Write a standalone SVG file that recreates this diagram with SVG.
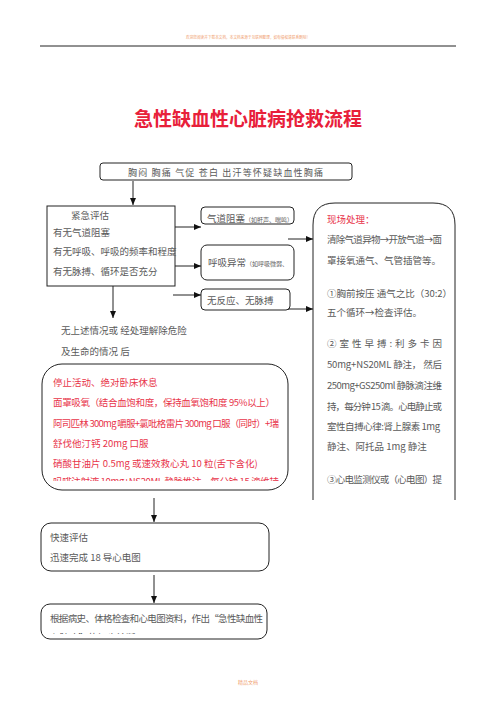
<svg xmlns="http://www.w3.org/2000/svg" width="496" height="702" viewBox="0 0 496 702">
<style>
text{font-family:"Noto Sans CJK SC","Liberation Sans",sans-serif;}
.t{font-size:9.5px;fill:#5a5a5a;}
.r{font-size:9.5px;fill:#e8344a;}
.box{fill:#fff;stroke:#222;stroke-width:1;}
.ln{stroke:#222;stroke-width:1;fill:none;}
</style>
<defs>
<marker id="ah" markerWidth="8" markerHeight="8" refX="7" refY="4" orient="auto" markerUnits="userSpaceOnUse">
<path d="M0,1 L7,4 L0,7 Z" fill="#111"/>
</marker>
<clipPath id="cRed"><rect x="42" y="364" width="246" height="117"/></clipPath>
<clipPath id="cBot"><rect x="41" y="604" width="226" height="30"/></clipPath>
<clipPath id="cA"><rect x="201" y="210" width="93" height="14"/></clipPath>
<clipPath id="cRight"><rect x="313" y="203" width="142" height="287"/></clipPath>
</defs>

<g id="header">
<text x="248" y="39" text-anchor="middle" style="font-size:4px;fill:#f0a070" textLength="124" lengthAdjust="spacingAndGlyphs">欢迎您阅读并下载本文档，本文档来源于互联网整理，如有侵权请联系删除！</text>
<line x1="40" y1="46" x2="456" y2="46" stroke="#222" stroke-width="1"/>
</g>

<g id="title">
<text x="248" y="126" text-anchor="middle" style="font-size:19px;font-weight:bold;fill:#e8203a">急性缺血性心脏病抢救流程</text>
</g>

<g id="n_symptoms">
<rect class="box" x="100" y="163" width="252" height="17" rx="3"/>
<text class="t" x="128" y="176" style="font-size:9px" textLength="195">胸闷  胸痛  气促  苍白  出汗等怀疑缺血性胸痛</text>
</g>

<g id="n_assess">
<rect class="box" x="47" y="206" width="128" height="80"/>
<text class="t" x="71" y="219">紧急评估</text>
<text class="t" x="53" y="236">有无气道阻塞</text>
<text class="t" x="53" y="255">有无呼吸、呼吸的频率和程度</text>
<text class="t" x="53" y="275">有无脉搏、循环是否充分</text>
</g>

<g id="n_airway">
<rect class="box" x="201" y="207" width="93" height="17" rx="4"/>
<g clip-path="url(#cA)">
<text class="t" x="207" y="222">气道阻塞<tspan style="font-size:6px">（如鼾声、喘鸣）</tspan></text>
</g>
</g>

<g id="n_breath">
<rect class="box" x="201" y="245" width="93" height="35" rx="6"/>
<text class="t" x="208" y="266">呼吸异常<tspan style="font-size:6px">（如呼吸微弱、</tspan></text>
</g>

<g id="n_pulse">
<rect class="box" x="201" y="289" width="89" height="21" rx="4"/>
<text class="t" x="207" y="304">无反应、无脉搏</text>
</g>

<g id="n_onsite">
<path class="box" d="M313,500 L313,225 Q313,203 335,203 L433,203 Q455,203 455,225 L455,500"/>
<g clip-path="url(#cRight)">
<text class="r" x="327" y="223">现场处理：</text>
<text class="t" x="327" y="243" textLength="115">清除气道异物→开放气道→面</text>
<text class="t" x="327" y="264">罩接氧通气、气管插管等。</text>
<text class="t" x="327" y="297">①胸前按压 通气之比（30:2）</text>
<text class="t" x="327" y="316">五个循环→检查评估。</text>
<text class="t" x="327" y="347" textLength="115">② 室 性 早 搏 : 利 多 卡 因</text>
<text class="t" x="327" y="368" textLength="115">50mg+NS20ML  静注， 然后</text>
<text class="t" x="327" y="389" textLength="115">250mg+GS250ml  静脉滴注维</text>
<text class="t" x="327" y="410" textLength="115">持，每分钟 15 滴。心电静止或</text>
<text class="t" x="327" y="430" textLength="113">室性自搏心律:肾上腺素  1mg</text>
<text class="t" x="327" y="450">静注、阿托品 1mg 静注</text>
<text class="t" x="327" y="483" textLength="115">③心电监测仪或（心电图）提</text>
</g>
</g>

<g id="n_note">
<text class="t" x="61" y="334">无上述情况或 经处理解除危险</text>
<text class="t" x="61" y="355">及生命的情况 后</text>
</g>

<g id="n_treat">
<rect class="box" x="42" y="364" width="246" height="126" rx="20"/>
<g clip-path="url(#cRed)">
<text class="r" x="53" y="386">停止活动、绝对卧床休息</text>
<text class="r" x="53" y="406" textLength="222">面罩吸氧（结合血饱和度，保持血氧饱和度 95%以上）</text>
<text class="r" x="53" y="427" textLength="226">阿司匹林 300mg 嚼服+氯吡格雷片 300mg 口服（同时）+瑞</text>
<text class="r" x="53" y="447">舒伐他汀钙 20mg 口服</text>
<text class="r" x="53" y="467">硝酸甘油片 0.5mg 或速效救心丸 10 粒(舌下含化)</text>
<text class="r" x="53" y="485" textLength="226">吗啡注射液 10mg+NS20ML 静脉推注，每分钟 15 滴维持</text>
</g>
</g>

<g id="n_quick">
<rect class="box" x="41" y="523" width="228" height="48" rx="10"/>
<text class="t" x="50" y="541">快速评估</text>
<text class="t" x="50" y="561">迅速完成 18 导心电图</text>
</g>

<g id="n_diag">
<rect class="box" x="41" y="604" width="226" height="35" rx="9"/>
<g clip-path="url(#cBot)">
<text class="t" x="50" y="622" textLength="213">根据病史、体格检查和心电图资料，作出“急性缺血性</text>
<text class="t" x="50" y="641">心脏病”的初步诊断</text>
</g>
</g>

<g id="connectors">
<line class="ln" x1="133" y1="181" x2="133" y2="205" marker-end="url(#ah)"/>
<line class="ln" x1="175" y1="227" x2="201" y2="227" marker-end="url(#ah)"/>
<line class="ln" x1="175" y1="266" x2="201" y2="266" marker-end="url(#ah)"/>
<line class="ln" x1="173" y1="295" x2="201" y2="295" marker-end="url(#ah)"/>
<line class="ln" x1="288" y1="239" x2="313" y2="239" marker-end="url(#ah)"/>
<line class="ln" x1="288" y1="309" x2="313" y2="309" marker-end="url(#ah)"/>
<line class="ln" x1="113" y1="286" x2="113" y2="318" marker-end="url(#ah)"/>
<line class="ln" x1="154" y1="498" x2="154" y2="522" marker-end="url(#ah)"/>
<line class="ln" x1="154" y1="575" x2="154" y2="603" marker-end="url(#ah)"/>
</g>

<g id="footer">
<text x="248" y="684" text-anchor="middle" style="font-size:5px;fill:#f0a070">精品文档</text>
</g>
</svg>
